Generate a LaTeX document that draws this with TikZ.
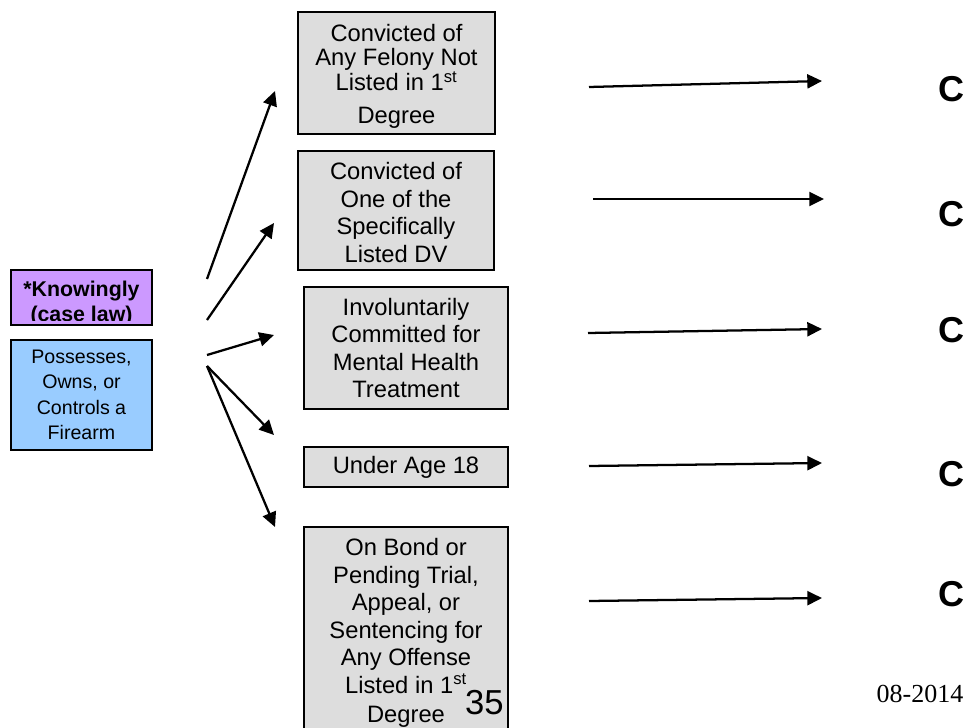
\documentclass[tikz,border=0pt]{standalone}
\usepackage{fontspec}
\setmainfont{Liberation Sans}
\newfontfamily\datefont{Liberation Serif}
\usetikzlibrary{arrows.meta}
\definecolor{boxgray}{HTML}{DDDDDD}
\definecolor{lilac}{HTML}{CC99FF}
\definecolor{skyblue}{HTML}{99CCFF}
\begin{document}
\begin{tikzpicture}[x=0.75pt,y=-0.75pt,
  cond/.style={draw=black, line width=1.7pt, fill=boxgray, inner sep=0pt, align=center},
  condfont/.style={font=\fontsize{17.8}{18.5}\selectfont},
  condfontwide/.style={font=\fontsize{17.8}{20.6}\selectfont},
  arr/.style={line width=1.7pt, -{Triangle[length=11pt,width=10.5pt]}},
  result/.style={font=\fontsize{27}{30}\selectfont\bfseries, inner sep=0pt}]
\clip (0,0) rectangle (968,728);
\fill[white] (0,0) rectangle (968,728);

% left side: the act and its mental element
\node[fill=lilac, inner sep=0pt, minimum width=105.75pt, minimum height=41.25pt] (knowing) at (81.5,297.5) {};
\begin{scope}
  \clip (knowing.north west) rectangle (152,320.5);
  \node[font=\fontsize{16}{18.3}\selectfont\bfseries, align=center, inner sep=0pt] (knowtext) at (81.5,303.5) {*Knowingly\\(case law)};
\end{scope}
\draw[line width=1.7pt] (knowing.south west) rectangle (knowing.north east);

\node[draw=black, line width=1.7pt, fill=skyblue, inner sep=0pt, align=center,
      minimum width=105.75pt, minimum height=82.5pt,
      font=\fontsize{14.7}{19}\selectfont] (possess) at (81.5,395)
  {Possesses,\\Owns, or\\Controls a\\Firearm};

% disqualifying conditions
\node[cond, condfont, minimum width=147.75pt, minimum height=91.5pt] (felony) at (396.5,73) {};
\node[condfont, align=center, inner sep=0pt] (felonytext) at (396.5,76.5)
  {Convicted of\\Any Felony Not\\Listed in 1\textsuperscript{st}\\[6.5pt]Degree};
\node[cond, condfontwide, minimum width=147pt, minimum height=89.25pt] (dv) at (396,210.5) {};
\node[condfontwide, align=center, inner sep=0pt] (dvtext) at (396,212.5)
  {Convicted of\\One of the\\Specifically\\Listed DV};
\node[cond, condfontwide, minimum width=153pt, minimum height=91.5pt] (mental) at (406,348)
  {Involuntarily\\Committed for\\Mental Health\\Treatment};
\node[cond, condfont, minimum width=153pt, minimum height=30pt] (age) at (406,467)
  {Under Age 18};
\node[cond, minimum width=153pt, minimum height=156pt] (bond) at (406,631) {};
\node[condfontwide, align=center, inner sep=0pt] (bondtext) at (406,633)
  {On Bond or\\Pending Trial,\\Appeal, or\\Sentencing for\\Any Offense\\Listed in 1\textsuperscript{st}\\[1.5pt]Degree};

% fan of arrows from the act to the conditions
\coordinate (s1) at (207,279);
\coordinate (s2) at (207,320);
\coordinate (s3) at (207,355);
\coordinate (s4) at (207,366);
\coordinate (t1) at (275,91);
\coordinate (t2) at (274,223);
\coordinate (t3) at (274,335);
\coordinate (t4) at (274,435);
\coordinate (t5) at (275,527);
\draw[arr] (s1) -- (t1);
\draw[arr] (s2) -- (t2);
\draw[arr] (s3) -- (t3);
\draw[arr] (s4) -- (t4);
\draw[arr] (s4) -- (t5);

% results
\node[result] (c1) at (951,89) {C};
\node[result] (c2) at (951,214) {C};
\node[result] (c3) at (951,330) {C};
\node[result] (c4) at (951,474) {C};
\node[result] (c5) at (951,594) {C};

\coordinate (r1s) at (589,87);  \coordinate (r1e) at (822,81);
\coordinate (r2s) at (593,199); \coordinate (r2e) at (824,199);
\coordinate (r3s) at (588,333); \coordinate (r3e) at (822,329);
\coordinate (r4s) at (589,466); \coordinate (r4e) at (822,463);
\coordinate (r5s) at (589,601); \coordinate (r5e) at (822,598);
\draw[arr] (r1s) -- (r1e);
\draw[arr] (r2s) -- (r2e);
\draw[arr] (r3s) -- (r3e);
\draw[arr] (r4s) -- (r4e);
\draw[arr] (r5s) -- (r5e);

% page number and date
\node[font=\fontsize{26}{28}\selectfont, inner sep=0pt] (pagenum) at (484.5,702.5) {35};
\node[font=\datefont\fontsize{19.5}{22}\selectfont, inner sep=0pt] (date) at (920,694) {08-2014};
\end{tikzpicture}
\end{document}
